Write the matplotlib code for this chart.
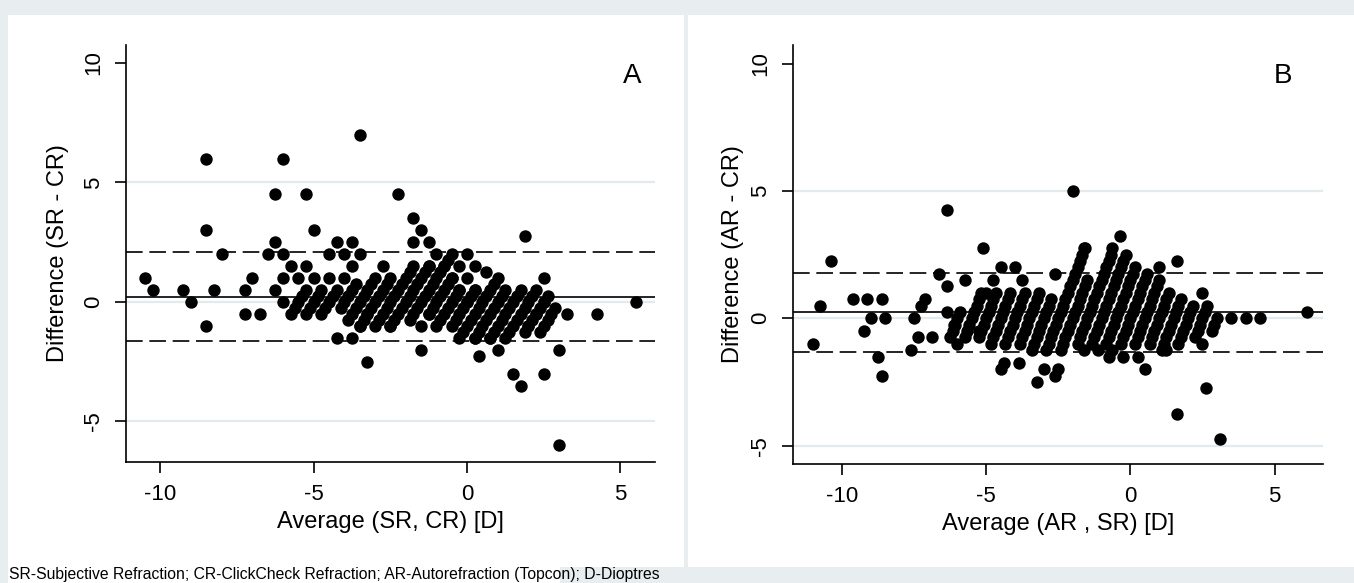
import matplotlib.pyplot as plt
from matplotlib.patches import Rectangle

# Panel A: Average (SR, CR) vs Difference (SR - CR)
avg_a = [
    # scattered points
    -10.5, -10.25, -9.25, -9.0, -8.5, -8.5, -8.5, -8.25, -8.0, -7.25, -7.25, -7.0, -6.75, -6.5,
    -6.25, -6.25, -6.25, -6.0, -6.0, -6.0, -6.0, -5.75, -5.5, -5.25, -5.25, -5.0, -5.0,
    -4.5, -4.5, -4.25, -4.25, -4.0, -4.0, -3.75, -3.75, -3.75, -3.5, -3.5, -3.5, -3.25, -3.25,
    -2.75, -2.5, -2.25, -1.75, -1.75, -1.5, -1.5, -1.5, -1.25, -1.25, -1.25, -1.0, -0.75,
    -0.5, -0.5, -0.25, -0.25, -0.25, 0.0, 0.0, 0.0, 0.25, 0.25, 0.25, 0.375, 0.625, 1.0, 1.0,
    0.75, 1.5, 1.75, 1.875, 2.5, 2.5, 2.5, 2.25, 2.0, 3.0, 3.0, 3.25, 4.25, 5.5,
    # streaks
    -5.75, -5.625, -5.5, -5.375, -5.25,
    -5.25, -5.125, -5.0, -4.875, -4.75,
    -4.75, -4.625, -4.5, -4.375, -4.25,
    -4.125, -4.0, -3.875, -3.75, -3.625,
    -3.875, -3.75, -3.625, -3.5, -3.375, -3.25, -3.125, -3.0,
    -3.5, -3.375, -3.25, -3.125, -3.0, -2.875, -2.75, -2.625, -2.5,
    -3.0, -2.875, -2.75, -2.625, -2.5, -2.375, -2.25, -2.125, -2.0, -1.875, -1.75,
    -2.5, -2.375, -2.25, -2.125, -2.0, -1.875, -1.75, -1.625, -1.5, -1.375, -1.25,
    -1.875, -1.75, -1.625, -1.5, -1.375, -1.25, -1.125, -1.0, -0.875, -0.75, -0.625,
    -1.25, -1.125, -1.0, -0.875, -0.75, -0.625, -0.5,
    -1.0, -0.875, -0.75, -0.625, -0.5, -0.375, -0.25,
    -0.5, -0.375, -0.25, -0.125, 0.0, 0.125, 0.25,
    -0.125, 0.0, 0.125, 0.25, 0.375, 0.5, 0.625, 0.75, 0.875,
    0.25, 0.375, 0.5, 0.625, 0.75, 0.875, 1.0, 1.125, 1.25,
    0.75, 0.875, 1.0, 1.125, 1.25, 1.375, 1.5, 1.625, 1.75,
    1.25, 1.375, 1.5, 1.625, 1.75, 1.875, 2.0, 2.125, 2.25,
    1.875, 2.0, 2.125, 2.25, 2.375, 2.5, 2.625,
    2.375, 2.5, 2.625, 2.75, 2.875,
]
diff_a = [
    1.0, 0.5, 0.5, 0.0, 6.0, 3.0, -1.0, 0.5, 2.0, 0.5, -0.5, 1.0, -0.5, 2.0,
    4.5, 2.5, 0.5, 6.0, 2.0, 1.0, 0.0, 1.5, 1.0, 4.5, 1.5, 3.0, 1.0,
    2.0, 1.0, 2.5, -1.5, 2.0, 1.0, 2.5, 1.5, -1.5, 7.0, 2.0, -1.0, -0.5, -2.5,
    1.5, -1.0, 4.5, 3.5, 2.5, 3.0, -1.0, -2.0, 2.5, 1.5, -0.5, 2.0, 1.5,
    2.0, 1.0, 1.5, 0.5, -1.5, 2.0, 1.0, 0.0, 1.5, 0.5, -1.5, -2.25, 1.25, 1.0, -2.0,
    -1.5, -3.0, -3.5, 2.75, 1.0, 0.0, -3.0, -0.5, -1.0, -2.0, -6.0, -0.5, -0.5, 0.0,
    -0.5, -0.25, 0.0, 0.25, 0.5,
    -0.5, -0.25, 0.0, 0.25, 0.5,
    -0.5, -0.25, 0.0, 0.25, 0.5,
    -0.25, 0.0, 0.25, 0.5, 0.75,
    -0.75, -0.5, -0.25, 0.0, 0.25, 0.5, 0.75, 1.0,
    -1.0, -0.75, -0.5, -0.25, 0.0, 0.25, 0.5, 0.75, 1.0,
    -1.0, -0.75, -0.5, -0.25, 0.0, 0.25, 0.5, 0.75, 1.0, 1.25, 1.5,
    -1.0, -0.75, -0.5, -0.25, 0.0, 0.25, 0.5, 0.75, 1.0, 1.25, 1.5,
    -0.75, -0.5, -0.25, 0.0, 0.25, 0.5, 0.75, 1.0, 1.25, 1.5, 1.75,
    -0.5, -0.25, 0.0, 0.25, 0.5, 0.75, 1.0,
    -1.0, -0.75, -0.5, -0.25, 0.0, 0.25, 0.5,
    -1.0, -0.75, -0.5, -0.25, 0.0, 0.25, 0.5,
    -1.25, -1.0, -0.75, -0.5, -0.25, 0.0, 0.25, 0.5, 0.75,
    -1.5, -1.25, -1.0, -0.75, -0.5, -0.25, 0.0, 0.25, 0.5,
    -1.5, -1.25, -1.0, -0.75, -0.5, -0.25, 0.0, 0.25, 0.5,
    -1.5, -1.25, -1.0, -0.75, -0.5, -0.25, 0.0, 0.25, 0.5,
    -1.25, -1.0, -0.75, -0.5, -0.25, 0.0, 0.25,
    -1.25, -1.0, -0.75, -0.5, -0.25,
]
mean_a, lo_a, hi_a = 0.2, -1.65, 2.1

# Panel B: Average (AR, SR) vs Difference (AR - CR)
avg_b = [
    # scattered points
    -11.0, -10.75, -10.375, -9.625, -9.125, -8.625, -9.0, -8.5, -9.25, -8.75, -8.625,
    -7.625, -7.5, -7.375, -6.875, -7.25, -7.125, -6.625, -6.375, -6.375, -6.375, -6.125,
    -6.0, -5.75, -5.125, -5.25, -4.75, -4.5, -4.0, -3.75, -5.0, -4.5, -4.375, -3.875,
    -3.25, -3.0, -2.0, -0.375, -0.625, -1.625, 1.625, -2.625, 1.0, 2.5, 3.5, 4.0, 4.5,
    6.125, 2.5, -1.625, -1.125, -0.625, -0.25, 0.25, -0.75, 0.5, 1.25, 2.625, 1.625,
    3.125, -2.5, -2.625,
    # streaks
    -6.25, -6.167, -6.083, -6.0, -5.917,
    -5.75, -5.667, -5.583, -5.5, -5.417, -5.333, -5.25, -5.167,
    -5.25, -5.167, -5.083, -5.0, -4.917, -4.833, -4.75, -4.667,
    -4.833, -4.75, -4.667, -4.583, -4.5, -4.417, -4.333, -4.25, -4.167,
    -4.333, -4.25, -4.167, -4.083, -4.0, -3.917, -3.833, -3.75, -3.667,
    -3.833, -3.75, -3.667, -3.583, -3.5, -3.417, -3.333, -3.25, -3.167,
    -3.417, -3.333, -3.25, -3.167, -3.083, -3.0, -2.917, -2.833, -2.75,
    -2.917, -2.833, -2.75, -2.667, -2.583, -2.5, -2.417, -2.333, -2.25, -2.167, -2.083,
    -2.0, -1.917, -1.833, -1.75, -1.667, -1.583,
    -2.417, -2.333, -2.25, -2.167, -2.083, -2.0, -1.917, -1.833, -1.75, -1.667, -1.583, -1.5,
    -1.833, -1.75, -1.667, -1.583, -1.5, -1.417, -1.333, -1.25, -1.167, -1.083, -1.0, -0.917,
    -0.833, -0.75, -0.667,
    -1.333, -1.25, -1.167, -1.083, -1.0, -0.917, -0.833, -0.75, -0.667, -0.583, -0.5, -0.417,
    -0.333, -0.25, -0.167,
    -0.833, -0.75, -0.667, -0.583, -0.5, -0.417, -0.333, -0.25, -0.167, -0.083, 0.0, 0.083, 0.167,
    -0.333, -0.25, -0.167, -0.083, 0.0, 0.083, 0.167, 0.25, 0.333, 0.417, 0.5, 0.583,
    0.167, 0.25, 0.333, 0.417, 0.5, 0.583, 0.667, 0.75, 0.833, 0.917, 1.0,
    0.667, 0.75, 0.833, 0.917, 1.0, 1.083, 1.167, 1.25, 1.333,
    1.083, 1.167, 1.25, 1.333, 1.417, 1.5, 1.583, 1.667, 1.75,
    1.667, 1.75, 1.833, 1.917, 2.0, 2.083, 2.167,
    2.25, 2.333, 2.417, 2.5, 2.583, 2.667,
    2.833, 2.917, 3.0,
]
diff_b = [
    -1.0, 0.5, 2.25, 0.75, 0.75, 0.75, 0.0, 0.0, -0.5, -1.5, -2.25,
    -1.25, 0.0, -0.75, -0.75, 0.5, 0.75, 1.75, 4.25, 1.25, 0.25, -0.25,
    -1.0, 1.5, 2.75, -0.5, 1.5, 2.0, 2.0, 1.5, 1.0, -2.0, -1.75, -1.75,
    -2.5, -2.0, 5.0, 3.25, 2.75, 2.75, 2.25, 1.75, 2.0, 1.0, 0.0, 0.0, 0.0,
    0.25, -1.0, -1.25, -1.25, -1.25, -1.5, -1.5, -1.5, -2.0, -1.25, -2.75, -3.75,
    -4.75, -2.0, -2.25,
    -0.75, -0.5, -0.25, 0.0, 0.25,
    -0.75, -0.5, -0.25, 0.0, 0.25, 0.5, 0.75, 1.0,
    -0.75, -0.5, -0.25, 0.0, 0.25, 0.5, 0.75, 1.0,
    -1.0, -0.75, -0.5, -0.25, 0.0, 0.25, 0.5, 0.75, 1.0,
    -1.0, -0.75, -0.5, -0.25, 0.0, 0.25, 0.5, 0.75, 1.0,
    -1.0, -0.75, -0.5, -0.25, 0.0, 0.25, 0.5, 0.75, 1.0,
    -1.25, -1.0, -0.75, -0.5, -0.25, 0.0, 0.25, 0.5, 0.75,
    -1.25, -1.0, -0.75, -0.5, -0.25, 0.0, 0.25, 0.5, 0.75, 1.0, 1.25,
    1.5, 1.75, 2.0, 2.25, 2.5, 2.75,
    -1.25, -1.0, -0.75, -0.5, -0.25, 0.0, 0.25, 0.5, 0.75, 1.0, 1.25, 1.5,
    -1.0, -0.75, -0.5, -0.25, 0.0, 0.25, 0.5, 0.75, 1.0, 1.25, 1.5, 1.75,
    2.0, 2.25, 2.5,
    -1.0, -0.75, -0.5, -0.25, 0.0, 0.25, 0.5, 0.75, 1.0, 1.25, 1.5, 1.75,
    2.0, 2.25, 2.5,
    -1.0, -0.75, -0.5, -0.25, 0.0, 0.25, 0.5, 0.75, 1.0, 1.25, 1.5, 1.75, 2.0,
    -1.0, -0.75, -0.5, -0.25, 0.0, 0.25, 0.5, 0.75, 1.0, 1.25, 1.5, 1.75,
    -1.0, -0.75, -0.5, -0.25, 0.0, 0.25, 0.5, 0.75, 1.0, 1.25, 1.5,
    -1.0, -0.75, -0.5, -0.25, 0.0, 0.25, 0.5, 0.75, 1.0,
    -1.25, -1.0, -0.75, -0.5, -0.25, 0.0, 0.25, 0.5, 0.75,
    -1.0, -0.75, -0.5, -0.25, 0.0, 0.25, 0.5,
    -0.75, -0.5, -0.25, 0.0, 0.25, 0.5,
    -0.5, -0.25, 0.0,
]
mean_b, lo_b, hi_b = 0.24, -1.33, 1.77

caption = "SR-Subjective Refraction; CR-ClickCheck Refraction; AR-Autorefraction (Topcon); D-Dioptres"

W, H = 1354, 583
plt.rcParams['font.family'] = ['Liberation Sans', 'DejaVu Sans']

fig = plt.figure(figsize=(W / 100, H / 100), dpi=100)
fig.patch.set_facecolor('#e8eef0')

# white panel backgrounds (pixel boxes: left, top, right, bottom)
for x0, y0, x1, y1 in [(8, 15, 684, 567), (688, 15, 1354, 567), (8, 567, 560, 583)]:
    fig.patches.append(Rectangle((x0 / W, 1 - y1 / H), (x1 - x0) / W, (y1 - y0) / H,
                                 transform=fig.transFigure, facecolor='white',
                                 edgecolor='none', zorder=-5))


def make_panel(rect, avg, diff, mean, lo, hi, xlim, ylim, xlabel, ylabel, letter, ylab_x):
    l, t, r, b = rect
    ax = fig.add_axes([l / W, 1 - b / H, (r - l) / W, (b - t) / H])
    ax.set_zorder(2)
    ax.patch.set_alpha(0)
    ax.set_xlim(*xlim)
    ax.set_ylim(*ylim)
    for s in ['top', 'right']:
        ax.spines[s].set_visible(False)
    for s in ['left', 'bottom']:
        ax.spines[s].set_linewidth(1.2)
    for g in [5, 0, -5]:
        ax.axhline(g, color='#e3eaed', lw=1.6, zorder=1)
    ax.scatter(avg, diff, s=80, color='black', linewidths=0, zorder=3)
    ax.axhline(mean, color='black', lw=1.2, zorder=2)
    ax.axhline(lo, color='black', lw=1.2, dashes=(10, 4), zorder=2)
    ax.axhline(hi, color='black', lw=1.2, dashes=(10, 4), zorder=2)
    ax.set_xticks([-10, -5, 0, 5])
    ax.set_xticklabels(['-10', '-5', '0', '5'])
    ax.set_yticks([-5, 0, 5, 10])
    ax.set_yticklabels(['-5', '0', '5', '10'], rotation=90, va='center')
    ax.tick_params(length=8, width=1.2, labelsize=16, pad=8)
    ax.set_xlabel(xlabel, fontsize=17)
    ax.set_ylabel(ylabel, fontsize=17)
    ax.yaxis.set_label_coords(ylab_x, 0.5)
    ax.xaxis.set_label_coords(0.5, -0.118)
    ax.text(0.957 if letter == 'A' else 0.925, 0.925, letter, transform=ax.transAxes,
            fontsize=20, ha='center', va='center')
    return ax


make_panel((126, 45, 655, 462), avg_a, diff_a, mean_a, lo_a, hi_a, (-11.12, 6.13), (-6.7, 10.75),
           'Average (SR, CR) [D]', 'Difference (SR - CR)', 'A', -0.108)
make_panel((793, 45, 1323, 464), avg_b, diff_b, mean_b, lo_b, hi_b, (-11.7, 6.68), (-5.72, 10.73),
           'Average (AR , SR) [D]', 'Difference (AR - CR)', 'B', -0.092)

fig.text(9 / W, 1 - 575 / H, caption, fontsize=11.3, va='center', ha='left')

fig.savefig('out.png', dpi=100, facecolor=fig.get_facecolor())
